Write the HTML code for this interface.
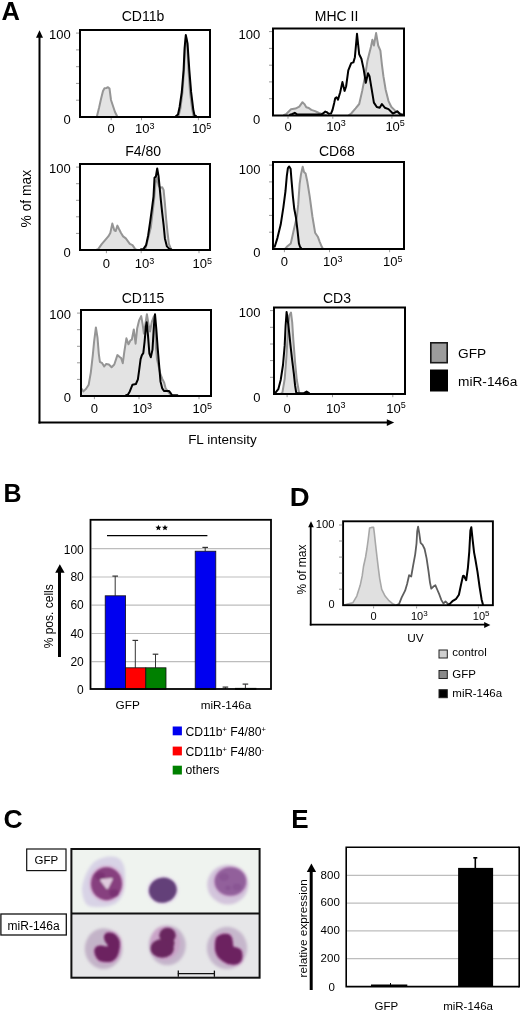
<!DOCTYPE html>
<html><head><meta charset="utf-8"><title>Figure</title>
<style>
html,body{margin:0;padding:0;background:#fff;}
body{width:520px;height:1018px;overflow:hidden;}
svg{display:block;font-family:"Liberation Sans", sans-serif;will-change:transform;}
</style></head>
<body>
<svg width="520" height="1018" viewBox="0 0 520 1018">
<rect x="0" y="0" width="520" height="1018" fill="#fff"/>
<text x="1.4" y="19.8" font-size="25.5" text-anchor="start" font-weight="bold" fill="#000" >A</text>
<line x1="39.5" y1="423.5" x2="39.5" y2="36" stroke="#000" stroke-width="2"/>
<polygon points="39.5,30.3 36,37.8 43,37.8" fill="#000"/>
<line x1="38.5" y1="422.5" x2="388" y2="422.5" stroke="#000" stroke-width="2"/>
<polygon points="394.2,422.6 386.8,419.2 386.8,426" fill="#000"/>
<text transform="translate(30.5,198.7) rotate(-90)" font-size="13.8" text-anchor="middle">% of max</text>
<text x="222.4" y="444.4" font-size="13.5" text-anchor="middle" fill="#000" >FL intensity</text>
<polygon points="97,117 97,116 99,108 101,99 103,91 104.5,88.3 106.5,88 108,87.2 109.5,88.5 111,100 113,106 115,112 117,116 117,117" fill="#e3e3e3" stroke="none"/>
<polyline points="97,116 99,108 101,99 103,91 104.5,88.3 106.5,88 108,87.2 109.5,88.5 111,100 113,106 115,112 117,116" fill="none" stroke="#959595" stroke-width="2" stroke-linejoin="round" stroke-linecap="round"/>
<polygon points="178.5,117 178.5,116 180.5,108 182.5,92 184,70 185,48 186,37 187.2,44 188.5,70 190,92 192,108 193.5,116 193.5,117" fill="#e3e3e3" stroke="none"/>
<polyline points="178.5,116 180.5,108 182.5,92 184,70 185,48 186,37 187.2,44 188.5,70 190,92 192,108 193.5,116" fill="none" stroke="#959595" stroke-width="2" stroke-linejoin="round" stroke-linecap="round"/>
<polyline points="176,116 178,114.5 179.6,107 181.8,92 183.6,70 184.6,48 185.8,35 187.5,43.3 189.3,69.8 191.1,91.9 193.3,109.6 194.5,115.5 196,116" fill="none" stroke="#000" stroke-width="2" stroke-linejoin="round" stroke-linecap="round"/>
<line x1="76" y1="100.2" x2="79" y2="100.2" stroke="#9a9a9a" stroke-width="1"/>
<line x1="76" y1="83.4" x2="79" y2="83.4" stroke="#9a9a9a" stroke-width="1"/>
<line x1="76" y1="66.7" x2="79" y2="66.7" stroke="#9a9a9a" stroke-width="1"/>
<line x1="76" y1="49.9" x2="79" y2="49.9" stroke="#9a9a9a" stroke-width="1"/>
<line x1="76" y1="33.1" x2="79" y2="33.1" stroke="#9a9a9a" stroke-width="1"/>
<line x1="111.2" y1="118" x2="111.2" y2="120.2" stroke="#9a9a9a" stroke-width="1"/>
<line x1="141.5" y1="118" x2="141.5" y2="120.2" stroke="#9a9a9a" stroke-width="1"/>
<line x1="198.4" y1="118" x2="198.4" y2="120.2" stroke="#9a9a9a" stroke-width="1"/>
<rect x="80" y="30" width="130" height="87" fill="none" stroke="#000" stroke-width="2"/>
<text x="143" y="20.9" font-size="14" text-anchor="middle" fill="#000" >CD11b</text>
<text x="70.8" y="38.5" font-size="13" text-anchor="end" fill="#000" >100</text>
<text x="70.8" y="124.2" font-size="13" text-anchor="end" fill="#000" >0</text>
<text x="111.2" y="133.2" font-size="13" text-anchor="middle" fill="#000" >0</text>
<text x="135" y="133.2" font-size="13" text-anchor="start">10<tspan dy="-4.6" font-size="9">3</tspan></text>
<text x="191.9" y="133.2" font-size="13" text-anchor="start">10<tspan dy="-4.6" font-size="9">5</tspan></text>
<polygon points="284,115.5 284,115 286,114.3 291,109.2 295.5,108.6 299.3,106.7 302.5,102.2 304.4,104.1 306.3,107.3 308.8,108 311.3,109.9 315.1,111.1 319,113 322.8,114.3 326,115 326,115.5" fill="#e3e3e3" stroke="none"/>
<polyline points="284,115 286,114.3 291,109.2 295.5,108.6 299.3,106.7 302.5,102.2 304.4,104.1 306.3,107.3 308.8,108 311.3,109.9 315.1,111.1 319,113 322.8,114.3 326,115" fill="none" stroke="#959595" stroke-width="2" stroke-linejoin="round" stroke-linecap="round"/>
<polygon points="349,115.5 349,115 351.2,113.5 355.6,108.4 359.2,104 362.2,90.9 365.1,76.2 367.3,61.6 368.7,55.8 370.9,47 372.4,39.7 373.9,45.5 376.1,33.1 378.2,45.5 380.4,50.7 381.9,64.5 383.4,76.2 385.6,89.4 388.5,101.1 391.4,107 395.1,110.6 398.7,112.8 401.6,114.3 403,115 403,115.5" fill="#e3e3e3" stroke="none"/>
<polyline points="349,115 351.2,113.5 355.6,108.4 359.2,104 362.2,90.9 365.1,76.2 367.3,61.6 368.7,55.8 370.9,47 372.4,39.7 373.9,45.5 376.1,33.1 378.2,45.5 380.4,50.7 381.9,64.5 383.4,76.2 385.6,89.4 388.5,101.1 391.4,107 395.1,110.6 398.7,112.8 401.6,114.3 403,115" fill="none" stroke="#959595" stroke-width="2" stroke-linejoin="round" stroke-linecap="round"/>
<polyline points="290,114.6 292.5,114 294.8,112.8 297,114.3 300,114.6 321,114.6 323,113.5 325.3,111.6 327.3,112.5 328.5,113.7 331,113.6 332.5,110 334.2,102.9 335.2,98.2 336.5,97.3 338,99.6 340.2,92.3 342.4,82.1 344.6,90.9 346.1,86.5 348.3,70.4 351.2,63.1 353.4,62.4 354.9,57.2 357,33.8 359.2,54.3 361.4,58.7 363.6,68.9 365.8,82.8 368,73.3 369.5,76.2 371.7,89.4 373.9,102.6 376.8,107 379.7,107.7 381.9,104 384.8,107.7 388.5,109.1 392.9,113.5 397.3,111.3 400.2,114.3 402,114.6" fill="none" stroke="#000" stroke-width="2" stroke-linejoin="round" stroke-linecap="round"/>
<line x1="269" y1="98.7" x2="272" y2="98.7" stroke="#9a9a9a" stroke-width="1"/>
<line x1="269" y1="81.9" x2="272" y2="81.9" stroke="#9a9a9a" stroke-width="1"/>
<line x1="269" y1="65.2" x2="272" y2="65.2" stroke="#9a9a9a" stroke-width="1"/>
<line x1="269" y1="48.4" x2="272" y2="48.4" stroke="#9a9a9a" stroke-width="1"/>
<line x1="269" y1="31.6" x2="272" y2="31.6" stroke="#9a9a9a" stroke-width="1"/>
<line x1="288" y1="116.5" x2="288" y2="118.7" stroke="#9a9a9a" stroke-width="1"/>
<line x1="332.8" y1="116.5" x2="332.8" y2="118.7" stroke="#9a9a9a" stroke-width="1"/>
<line x1="391.9" y1="116.5" x2="391.9" y2="118.7" stroke="#9a9a9a" stroke-width="1"/>
<rect x="273" y="28.5" width="131" height="87" fill="none" stroke="#000" stroke-width="2"/>
<text x="336.5" y="20.9" font-size="14" text-anchor="middle" fill="#000" >MHC II</text>
<text x="260.2" y="38.5" font-size="13" text-anchor="end" fill="#000" >100</text>
<text x="260.2" y="124.2" font-size="13" text-anchor="end" fill="#000" >0</text>
<text x="288" y="131.0" font-size="13" text-anchor="middle" fill="#000" >0</text>
<text x="326.3" y="131.0" font-size="13" text-anchor="start">10<tspan dy="-4.6" font-size="9">3</tspan></text>
<text x="385.4" y="131.0" font-size="13" text-anchor="start">10<tspan dy="-4.6" font-size="9">5</tspan></text>
<polygon points="96,250 96,250 98.2,249.1 101.5,244.4 104.9,240.4 108.3,236.4 110.3,233 112.3,223.6 114.3,230.3 115.7,231 117.4,225.6 119,229 121,233 123.1,236.4 125.8,238.4 127.8,241.1 129.8,243.8 132.5,245.1 135.2,249.1 137,250 137,250" fill="#e3e3e3" stroke="none"/>
<polyline points="96,250 98.2,249.1 101.5,244.4 104.9,240.4 108.3,236.4 110.3,233 112.3,223.6 114.3,230.3 115.7,231 117.4,225.6 119,229 121,233 123.1,236.4 125.8,238.4 127.8,241.1 129.8,243.8 132.5,245.1 135.2,249.1 137,250" fill="none" stroke="#959595" stroke-width="2" stroke-linejoin="round" stroke-linecap="round"/>
<polygon points="143,250 143,250 145.4,249.1 150.8,227.6 154.1,199.3 155.5,183.2 156.8,177.8 158.8,185.9 160.2,187.9 162.2,187.2 163.6,189.9 164.9,203.4 166.2,219.5 167.6,233 168.9,243.8 171,249.1 172,250 172,250" fill="#e3e3e3" stroke="none"/>
<polyline points="143,250 145.4,249.1 150.8,227.6 154.1,199.3 155.5,183.2 156.8,177.8 158.8,185.9 160.2,187.9 162.2,187.2 163.6,189.9 164.9,203.4 166.2,219.5 167.6,233 168.9,243.8 171,249.1 172,250" fill="none" stroke="#959595" stroke-width="2" stroke-linejoin="round" stroke-linecap="round"/>
<polyline points="141,249.3 143.4,249.1 146.1,245.1 148.1,235.7 150.1,222.2 152.1,207.4 153.5,196.6 154.5,177.8 155.9,176.5 157.2,168.4 158.6,176.5 159.5,185.9 160.9,200.7 162.2,212.8 163.6,224.9 164.9,238.4 166.9,246.4 169.6,249.1 171,249.3" fill="none" stroke="#000" stroke-width="2" stroke-linejoin="round" stroke-linecap="round"/>
<line x1="76" y1="233.4" x2="79" y2="233.4" stroke="#9a9a9a" stroke-width="1"/>
<line x1="76" y1="216.8" x2="79" y2="216.8" stroke="#9a9a9a" stroke-width="1"/>
<line x1="76" y1="200.3" x2="79" y2="200.3" stroke="#9a9a9a" stroke-width="1"/>
<line x1="76" y1="183.7" x2="79" y2="183.7" stroke="#9a9a9a" stroke-width="1"/>
<line x1="76" y1="167.1" x2="79" y2="167.1" stroke="#9a9a9a" stroke-width="1"/>
<line x1="106.4" y1="251" x2="106.4" y2="253.2" stroke="#9a9a9a" stroke-width="1"/>
<line x1="141.2" y1="251" x2="141.2" y2="253.2" stroke="#9a9a9a" stroke-width="1"/>
<line x1="199.0" y1="251" x2="199.0" y2="253.2" stroke="#9a9a9a" stroke-width="1"/>
<rect x="80" y="164" width="130" height="86" fill="none" stroke="#000" stroke-width="2"/>
<text x="143.1" y="156.3" font-size="14" text-anchor="middle" fill="#000" >F4/80</text>
<text x="70.8" y="173.4" font-size="13" text-anchor="end" fill="#000" >100</text>
<text x="70.8" y="256.9" font-size="13" text-anchor="end" fill="#000" >0</text>
<text x="106.4" y="268.3" font-size="13" text-anchor="middle" fill="#000" >0</text>
<text x="134.7" y="268.3" font-size="13" text-anchor="start">10<tspan dy="-4.6" font-size="9">3</tspan></text>
<text x="192.5" y="268.3" font-size="13" text-anchor="start">10<tspan dy="-4.6" font-size="9">5</tspan></text>
<polygon points="285,249 285,249 286.8,246.8 290.8,243.4 293.5,231.3 296.9,216.5 298.2,204.4 299.6,184.2 300.9,174.8 302.7,166.7 304,172.1 305.6,173.5 307.3,181.5 309.7,196.3 312.4,216.5 315.1,232.7 317.8,236.7 319.8,242.1 321.8,246.8 323,249 323,249" fill="#e3e3e3" stroke="none"/>
<polyline points="285,249 286.8,246.8 290.8,243.4 293.5,231.3 296.9,216.5 298.2,204.4 299.6,184.2 300.9,174.8 302.7,166.7 304,172.1 305.6,173.5 307.3,181.5 309.7,196.3 312.4,216.5 315.1,232.7 317.8,236.7 319.8,242.1 321.8,246.8 323,249" fill="none" stroke="#959595" stroke-width="2" stroke-linejoin="round" stroke-linecap="round"/>
<polyline points="274.7,246.8 277.4,238.1 280.7,224.6 283.4,207.1 285.5,191 286.8,176.2 287.9,168.1 289.2,166.5 290.6,168.7 291.5,180.2 292.9,196.3 294.2,208.5 296,217.9 297.6,231.3 298.9,243.4 300,246.8 301,248" fill="none" stroke="#000" stroke-width="2" stroke-linejoin="round" stroke-linecap="round"/>
<line x1="269" y1="232.2" x2="272" y2="232.2" stroke="#9a9a9a" stroke-width="1"/>
<line x1="269" y1="215.4" x2="272" y2="215.4" stroke="#9a9a9a" stroke-width="1"/>
<line x1="269" y1="198.7" x2="272" y2="198.7" stroke="#9a9a9a" stroke-width="1"/>
<line x1="269" y1="181.9" x2="272" y2="181.9" stroke="#9a9a9a" stroke-width="1"/>
<line x1="269" y1="165.1" x2="272" y2="165.1" stroke="#9a9a9a" stroke-width="1"/>
<line x1="284.4" y1="250" x2="284.4" y2="252.2" stroke="#9a9a9a" stroke-width="1"/>
<line x1="329.5" y1="250" x2="329.5" y2="252.2" stroke="#9a9a9a" stroke-width="1"/>
<line x1="389.6" y1="250" x2="389.6" y2="252.2" stroke="#9a9a9a" stroke-width="1"/>
<rect x="273" y="162" width="131" height="87" fill="none" stroke="#000" stroke-width="2"/>
<text x="336.9" y="155.9" font-size="14" text-anchor="middle" fill="#000" >CD68</text>
<text x="260.4" y="173.5" font-size="13" text-anchor="end" fill="#000" >100</text>
<text x="260.4" y="256.8" font-size="13" text-anchor="end" fill="#000" >0</text>
<text x="284.4" y="266.3" font-size="13" text-anchor="middle" fill="#000" >0</text>
<text x="323" y="266.3" font-size="13" text-anchor="start">10<tspan dy="-4.6" font-size="9">3</tspan></text>
<text x="383.1" y="266.3" font-size="13" text-anchor="start">10<tspan dy="-4.6" font-size="9">5</tspan></text>
<polygon points="81.6,396 81.6,388.8 83.4,391.4 86.1,388.8 88.7,384.7 90.8,372.6 92.8,355.1 94.1,341.6 95.9,327.5 97.5,337.6 98.8,353.8 99.9,361.8 102.2,363.2 104.2,366.5 106.2,363.9 108.9,364.5 111.6,367.2 114.3,364.5 117.4,355.1 119.7,357.1 121,357.8 122.8,363.2 124.4,351.1 126.4,338.3 128.5,344.3 130.5,340.3 131.8,339.6 133.8,329.5 135.6,343.7 137.2,328.2 139.2,320.1 141.2,316.1 142.6,324.2 143.9,333.6 145.3,324.6 146.9,314.2 148.6,324.6 150,331.5 151.8,321.9 153.9,316.3 155.2,328.8 155.9,346.8 157,359.2 158,363.4 160.1,373.1 162.2,378.6 164.2,382.8 165.6,388.3 167.7,391.1 169.8,393.9 171.2,395.5 171.2,396" fill="#e3e3e3" stroke="none"/>
<polyline points="81.6,388.8 83.4,391.4 86.1,388.8 88.7,384.7 90.8,372.6 92.8,355.1 94.1,341.6 95.9,327.5 97.5,337.6 98.8,353.8 99.9,361.8 102.2,363.2 104.2,366.5 106.2,363.9 108.9,364.5 111.6,367.2 114.3,364.5 117.4,355.1 119.7,357.1 121,357.8 122.8,363.2 124.4,351.1 126.4,338.3 128.5,344.3 130.5,340.3 131.8,339.6 133.8,329.5 135.6,343.7 137.2,328.2 139.2,320.1 141.2,316.1 142.6,324.2 143.9,333.6 145.3,324.6 146.9,314.2 148.6,324.6 150,331.5 151.8,321.9 153.9,316.3 155.2,328.8 155.9,346.8 157,359.2 158,363.4 160.1,373.1 162.2,378.6 164.2,382.8 165.6,388.3 167.7,391.1 169.8,393.9 171.2,395.5" fill="none" stroke="#959595" stroke-width="2" stroke-linejoin="round" stroke-linecap="round"/>
<polyline points="126,395.3 127.8,394.8 129.8,391.4 132.5,384.7 135.9,384 137.9,379.3 139.2,369.9 140.6,359.1 141.9,355.1 143.3,353.1 144.6,341.6 145.9,326.8 146.7,322.3 148,335.7 149.4,353.7 150.8,357.2 152.5,349.6 153.9,326 155,314.2 156.3,328.8 157.7,348.2 159.1,364.8 160.5,381.4 162.2,388.3 164.2,391.1 167,391.1 169.1,391.1 170.7,393.2 172.1,395.3 177.4,395.3" fill="none" stroke="#000" stroke-width="2" stroke-linejoin="round" stroke-linecap="round"/>
<line x1="77" y1="379.4" x2="80" y2="379.4" stroke="#9a9a9a" stroke-width="1"/>
<line x1="77" y1="362.8" x2="80" y2="362.8" stroke="#9a9a9a" stroke-width="1"/>
<line x1="77" y1="346.3" x2="80" y2="346.3" stroke="#9a9a9a" stroke-width="1"/>
<line x1="77" y1="329.7" x2="80" y2="329.7" stroke="#9a9a9a" stroke-width="1"/>
<line x1="77" y1="313.1" x2="80" y2="313.1" stroke="#9a9a9a" stroke-width="1"/>
<line x1="94.4" y1="397" x2="94.4" y2="399.2" stroke="#9a9a9a" stroke-width="1"/>
<line x1="139.0" y1="397" x2="139.0" y2="399.2" stroke="#9a9a9a" stroke-width="1"/>
<line x1="199.0" y1="397" x2="199.0" y2="399.2" stroke="#9a9a9a" stroke-width="1"/>
<rect x="81" y="310" width="130" height="86" fill="none" stroke="#000" stroke-width="2"/>
<text x="143" y="302.6" font-size="14" text-anchor="middle" fill="#000" >CD115</text>
<text x="70.9" y="319.3" font-size="13" text-anchor="end" fill="#000" >100</text>
<text x="70.9" y="401.8" font-size="13" text-anchor="end" fill="#000" >0</text>
<text x="94.4" y="413.3" font-size="13" text-anchor="middle" fill="#000" >0</text>
<text x="132.5" y="413.3" font-size="13" text-anchor="start">10<tspan dy="-4.6" font-size="9">3</tspan></text>
<text x="192.5" y="413.3" font-size="13" text-anchor="start">10<tspan dy="-4.6" font-size="9">5</tspan></text>
<polygon points="281,394.0 281,393.5 282.4,392.7 284.7,378.8 286.4,356.9 288.1,328.1 289.3,315.4 291,312.5 292.2,322.3 293.3,339.6 295.1,362.7 296.8,380 299.1,392.7 300,393.5 300,394.0" fill="#e3e3e3" stroke="none"/>
<polyline points="281,393.5 282.4,392.7 284.7,378.8 286.4,356.9 288.1,328.1 289.3,315.4 291,312.5 292.2,322.3 293.3,339.6 295.1,362.7 296.8,380 299.1,392.7 300,393.5" fill="none" stroke="#959595" stroke-width="2" stroke-linejoin="round" stroke-linecap="round"/>
<polyline points="274.5,393 275.5,392.7 278.3,389.2 280.7,380 283,365 284.7,345.4 285.6,325.8 286.6,311.9 287.6,318.8 288.7,328.1 290.5,345.4 292.2,360.4 293.9,374.2 295.1,385.7 296.2,392.7 297.5,393.2 304,393.2 306.6,391.6 309,393.2" fill="none" stroke="#000" stroke-width="2" stroke-linejoin="round" stroke-linecap="round"/>
<line x1="270" y1="377.3" x2="273" y2="377.3" stroke="#9a9a9a" stroke-width="1"/>
<line x1="270" y1="360.6" x2="273" y2="360.6" stroke="#9a9a9a" stroke-width="1"/>
<line x1="270" y1="344.0" x2="273" y2="344.0" stroke="#9a9a9a" stroke-width="1"/>
<line x1="270" y1="327.3" x2="273" y2="327.3" stroke="#9a9a9a" stroke-width="1"/>
<line x1="270" y1="310.6" x2="273" y2="310.6" stroke="#9a9a9a" stroke-width="1"/>
<line x1="287.1" y1="395.0" x2="287.1" y2="397.2" stroke="#9a9a9a" stroke-width="1"/>
<line x1="332.5" y1="395.0" x2="332.5" y2="397.2" stroke="#9a9a9a" stroke-width="1"/>
<line x1="392.8" y1="395.0" x2="392.8" y2="397.2" stroke="#9a9a9a" stroke-width="1"/>
<rect x="274" y="307.5" width="131" height="86.5" fill="none" stroke="#000" stroke-width="2"/>
<text x="337" y="302.5" font-size="14" text-anchor="middle" fill="#000" >CD3</text>
<text x="260.5" y="316.8" font-size="13" text-anchor="end" fill="#000" >100</text>
<text x="260.5" y="401.5" font-size="13" text-anchor="end" fill="#000" >0</text>
<text x="287.1" y="413.0" font-size="13" text-anchor="middle" fill="#000" >0</text>
<text x="326" y="413.0" font-size="13" text-anchor="start">10<tspan dy="-4.6" font-size="9">3</tspan></text>
<text x="386.3" y="413.0" font-size="13" text-anchor="start">10<tspan dy="-4.6" font-size="9">5</tspan></text>
<rect x="430.8" y="342.8" width="16.4" height="19.9" fill="#9c9c9c" stroke="#1a1a1a" stroke-width="1.6"/>
<rect x="430" y="369.5" width="18" height="22" fill="#000" stroke="none" stroke-width="0"/>
<text x="458" y="357.9" font-size="13.7" text-anchor="start" fill="#000" >GFP</text>
<text x="458" y="386.3" font-size="13.7" text-anchor="start" fill="#000" >miR-146a</text>
<text x="3.6" y="502.3" font-size="25" text-anchor="start" font-weight="bold" fill="#000" >B</text>
<line x1="91.5" y1="661.7" x2="270" y2="661.7" stroke="#bdbdbd" stroke-width="1.2"/>
<line x1="91.5" y1="633.5" x2="270" y2="633.5" stroke="#bdbdbd" stroke-width="1.2"/>
<line x1="91.5" y1="605.2" x2="270" y2="605.2" stroke="#bdbdbd" stroke-width="1.2"/>
<line x1="91.5" y1="577.0" x2="270" y2="577.0" stroke="#bdbdbd" stroke-width="1.2"/>
<line x1="91.5" y1="548.7" x2="270" y2="548.7" stroke="#bdbdbd" stroke-width="1.2"/>
<line x1="115.2" y1="595.8" x2="115.2" y2="576.1" stroke="#333" stroke-width="1"/>
<line x1="112.4" y1="576.1" x2="118.0" y2="576.1" stroke="#333" stroke-width="1.2"/>
<line x1="135.3" y1="667.8" x2="135.3" y2="640.4" stroke="#333" stroke-width="1"/>
<line x1="132.5" y1="640.4" x2="138.10000000000002" y2="640.4" stroke="#333" stroke-width="1.2"/>
<line x1="155.5" y1="667.8" x2="155.5" y2="654.2" stroke="#333" stroke-width="1"/>
<line x1="152.7" y1="654.2" x2="158.3" y2="654.2" stroke="#333" stroke-width="1.2"/>
<line x1="205.2" y1="551.2" x2="205.2" y2="547.4" stroke="#333" stroke-width="1"/>
<line x1="202.39999999999998" y1="547.4" x2="208.0" y2="547.4" stroke="#333" stroke-width="1.2"/>
<line x1="225.4" y1="689" x2="225.4" y2="687.1" stroke="#333" stroke-width="1"/>
<line x1="222.6" y1="687.1" x2="228.20000000000002" y2="687.1" stroke="#333" stroke-width="1.2"/>
<line x1="245.4" y1="689" x2="245.4" y2="684.1" stroke="#333" stroke-width="1"/>
<line x1="242.6" y1="684.1" x2="248.20000000000002" y2="684.1" stroke="#333" stroke-width="1.2"/>
<rect x="105.2" y="595.8" width="20.39999999999999" height="93.5" fill="#0000f0" stroke="#111" stroke-width="0.8"/>
<rect x="125.6" y="667.8" width="20.200000000000017" height="21.5" fill="#ff0000" stroke="#111" stroke-width="0.8"/>
<rect x="145.8" y="667.8" width="20.19999999999999" height="21.5" fill="#008000" stroke="#111" stroke-width="0.8"/>
<rect x="195.2" y="551.2" width="20.600000000000023" height="138.0999999999999" fill="#0000f0" stroke="#111" stroke-width="0.8"/>
<rect x="235.4" y="688.3" width="20.599999999999994" height="1.0" fill="#008000" stroke="#111" stroke-width="0.8"/>
<rect x="90.5" y="519.8" width="180.5" height="169.2" fill="none" stroke="#000" stroke-width="1.8"/>
<line x1="107" y1="535.6" x2="207.4" y2="535.6" stroke="#000" stroke-width="1.2"/>
<polygon points="158.4,524.65 159.23,526.65 161.4,526.83 159.75,528.24 160.25,530.35 158.4,529.22 156.55,530.35 157.05,528.24 155.4,526.83 157.57,526.65" fill="#000"/>
<polygon points="165.0,524.65 165.83,526.65 168.0,526.83 166.35,528.24 166.85,530.35 165.0,529.22 163.15,530.35 163.65,528.24 162.0,526.83 164.17,526.65" fill="#000"/>
<text x="83.8" y="553.6" font-size="12" text-anchor="end" fill="#000" >100</text>
<text x="83.8" y="581.4" font-size="12" text-anchor="end" fill="#000" >80</text>
<text x="83.8" y="609.3" font-size="12" text-anchor="end" fill="#000" >60</text>
<text x="83.8" y="637.7" font-size="12" text-anchor="end" fill="#000" >40</text>
<text x="83.8" y="666" font-size="12" text-anchor="end" fill="#000" >20</text>
<text x="83.8" y="694.2" font-size="12" text-anchor="end" fill="#000" >0</text>
<line x1="59.5" y1="657" x2="59.5" y2="571" stroke="#000" stroke-width="3"/>
<polygon points="59.8,564.2 55.2,572.8 64.6,572.8" fill="#000"/>
<text transform="translate(53.3,616.3) rotate(-90)" font-size="12" text-anchor="middle">% pos. cells</text>
<text x="127.7" y="709.4" font-size="11.8" text-anchor="middle" fill="#000" >GFP</text>
<text x="226" y="709.2" font-size="11.7" text-anchor="middle" fill="#000" >miR-146a</text>
<rect x="172.7" y="726.5" width="9.2" height="8.8" fill="#0000f0"/>
<text x="185.5" y="735.5" font-size="12.2" text-anchor="start" fill="#000" >CD11b<tspan font-size="7.5" dy="-4">+</tspan><tspan dy="4" dx="0"> F4/80</tspan><tspan font-size="7.5" dy="-4">+</tspan></text>
<rect x="172.7" y="746.6" width="9.2" height="8.8" fill="#ff0000"/>
<text x="185.5" y="755.6" font-size="12.2" text-anchor="start" fill="#000" >CD11b<tspan font-size="7.5" dy="-4">+</tspan><tspan dy="4" dx="0"> F4/80</tspan><tspan font-size="7.5" dy="-4">-</tspan></text>
<rect x="172.7" y="765.7" width="9.2" height="8.8" fill="#008000"/>
<text x="185.5" y="773.7" font-size="12.2" text-anchor="start" fill="#000" >others</text>
<text x="0" y="0" font-size="25" font-weight="bold" transform="translate(289.7 505.8) scale(1.1 1)">D</text>
<line x1="310.7" y1="625.5" x2="310.7" y2="526" stroke="#000" stroke-width="1.8"/>
<polygon points="311,521.2 308.2,527.2 313.8,527.2" fill="#000"/>
<line x1="309.8" y1="624.7" x2="485" y2="624.7" stroke="#000" stroke-width="1.8"/>
<polygon points="490.4,624.9 484.2,622 484.2,628" fill="#000"/>
<polygon points="345,605 345,604.8 347.4,604.1 352.8,602.8 356.8,596.1 360.2,585.3 362.2,575.9 363.5,566.5 365.6,557 366.9,549 368.2,539.5 369.6,528.1 371.6,527.4 373.6,527.4 374.3,532.8 375.6,544.9 377,557 378.3,567.8 379.7,578.6 381.7,589.3 385.1,596.1 388.4,600.1 393.1,604.1 395,604.8 395,605" fill="#e0e0e0" stroke="none"/>
<polyline points="345,604.8 347.4,604.1 352.8,602.8 356.8,596.1 360.2,585.3 362.2,575.9 363.5,566.5 365.6,557 366.9,549 368.2,539.5 369.6,528.1 371.6,527.4 373.6,527.4 374.3,532.8 375.6,544.9 377,557 378.3,567.8 379.7,578.6 381.7,589.3 385.1,596.1 388.4,600.1 393.1,604.1 395,604.8" fill="none" stroke="#a8a8a8" stroke-width="1.6" stroke-linejoin="round" stroke-linecap="round"/>
<polyline points="397,604.8 399,604.1 401.7,597.4 405.1,590.7 407.1,584 409.1,575.2 411.2,576.5 413.2,565.1 415.2,554.3 416.5,543.6 417.2,531.5 418.1,526.7 419.2,532.8 420.6,542.9 422.6,544.9 424.6,549 426.6,558.4 428.6,571.8 430,582.6 431.3,588.7 433.4,586.6 435.4,585.3 437.4,590 439.4,594.7 441.4,600.1 443.5,603.5 445.5,601.4 448.2,604.1 450,604.8" fill="none" stroke="#5e5e5e" stroke-width="1.8" stroke-linejoin="round" stroke-linecap="round"/>
<polyline points="448,604.8 449.5,604.1 452.9,600.8 456.2,598.8 458.9,594.7 460.9,585.3 463,575.9 463.8,575.7 466.2,580.2 467.9,567.8 469.3,551.3 470.4,530.6 471.3,527.2 472.7,540.3 474.1,552.6 475.4,559.5 477.5,571.9 479.6,587 481.6,599.4 483,604.8" fill="none" stroke="#000" stroke-width="2" stroke-linejoin="round" stroke-linecap="round"/>
<rect x="343.1" y="521.3" width="149.8" height="83.9" fill="none" stroke="#000" stroke-width="1.9"/>
<line x1="339" y1="589.2" x2="342.2" y2="589.2" stroke="#9a9a9a" stroke-width="1"/>
<line x1="339" y1="573.1" x2="342.2" y2="573.1" stroke="#9a9a9a" stroke-width="1"/>
<line x1="339" y1="557.1" x2="342.2" y2="557.1" stroke="#9a9a9a" stroke-width="1"/>
<line x1="339" y1="541.0" x2="342.2" y2="541.0" stroke="#9a9a9a" stroke-width="1"/>
<line x1="339" y1="525.0" x2="342.2" y2="525.0" stroke="#9a9a9a" stroke-width="1"/>
<line x1="373.6" y1="606.2" x2="373.6" y2="608.4" stroke="#9a9a9a" stroke-width="1"/>
<line x1="416.6" y1="606.2" x2="416.6" y2="608.4" stroke="#9a9a9a" stroke-width="1"/>
<line x1="478.4" y1="606.2" x2="478.4" y2="608.4" stroke="#9a9a9a" stroke-width="1"/>
<text x="334.5" y="527.9" font-size="11.2" text-anchor="end" fill="#000" >100</text>
<text x="334.5" y="607.9" font-size="11" text-anchor="end" fill="#000" >0</text>
<text x="373.6" y="620" font-size="11" text-anchor="middle" fill="#000" >0</text>
<text x="411.0" y="620" font-size="11" text-anchor="start">10<tspan dy="-4.2" font-size="8">3</tspan></text>
<text x="472.8" y="620" font-size="11" text-anchor="start">10<tspan dy="-4.2" font-size="8">5</tspan></text>
<text transform="translate(306.2,569.5) rotate(-90)" font-size="12" text-anchor="middle">% of max</text>
<text x="415.4" y="641.5" font-size="11.8" text-anchor="middle" fill="#000" >UV</text>
<rect x="439" y="650.0" width="8.3" height="8" fill="#cfcfcf" stroke="#222" stroke-width="1"/>
<text x="452.3" y="656.4" font-size="11.5" text-anchor="start" fill="#000" >control</text>
<rect x="439" y="670.5" width="8.3" height="8" fill="#8a8a8a" stroke="#222" stroke-width="1"/>
<text x="452.3" y="677.5" font-size="11.5" text-anchor="start" fill="#000" >GFP</text>
<rect x="439" y="689.7" width="8.3" height="8" fill="#000" stroke="#222" stroke-width="1"/>
<text x="452.3" y="696.7" font-size="11.5" text-anchor="start" fill="#000" >miR-146a</text>
<text x="3.4" y="827.9" font-size="26.5" text-anchor="start" font-weight="bold" fill="#000" >C</text>
<rect x="26.7" y="849" width="39.3" height="21.6" fill="#fff" stroke="#111" stroke-width="1.2"/>
<text x="46.4" y="863.8" font-size="11.5" text-anchor="middle" fill="#000" >GFP</text>
<rect x="0.9" y="914" width="65.4" height="21" fill="#fff" stroke="#111" stroke-width="1.3"/>
<text x="33.6" y="929.6" font-size="12" text-anchor="middle" fill="#000" >miR-146a</text>
<rect x="71.2" y="849" width="188.4" height="64.5" fill="#eff3ef"/>
<rect x="71.2" y="913.5" width="188.4" height="64" fill="#e6e6e8"/>
<defs><filter id="bl" x="-20%" y="-20%" width="140%" height="140%"><feGaussianBlur stdDeviation="0.9"/></filter><filter id="bl2" x="-20%" y="-20%" width="140%" height="140%"><feGaussianBlur stdDeviation="1.6"/></filter></defs>
<g filter="url(#bl2)">
<path d="M84,900 C82.8,897.0 81.7,892.3 82,888 C82.3,883.7 84.0,878.3 86,874 C88.0,869.7 90.7,864.8 94,862 C97.3,859.2 102.0,857.7 106,857 C110.0,856.3 115.0,856.5 118,858 C121.0,859.5 122.8,862.3 124,866 C125.2,869.7 125.2,875.3 125,880 C124.8,884.7 124.7,890.0 123,894 C121.3,898.0 118.7,901.8 115,904 C111.3,906.2 105.3,906.7 101,907 C96.7,907.3 91.8,907.2 89,906 C86.2,904.8 85.2,903.0 84,900 Z" fill="#d8d3e6"/>
<ellipse cx="227.8" cy="884.6" rx="20.6" ry="19.8" fill="#d3c5dc"/>
<ellipse cx="162.8" cy="890.2" rx="15.8" ry="14.2" fill="#e6dcec"/>
<ellipse cx="103.6" cy="948.7" rx="18.8" ry="20.4" fill="#c3b3c8"/>
<ellipse cx="167.3" cy="945.3" rx="18.5" ry="20" fill="#c5b5cb"/>
<ellipse cx="227" cy="948" rx="20.2" ry="21.2" fill="#c6b7cc"/>
<ellipse cx="106.5" cy="883.7" rx="17.5" ry="18.5" fill="#d6b6d6"/>
<ellipse cx="230.4" cy="881.5" rx="17" ry="15.5" fill="#c8a6cc"/>
<path d="M108.8,932.6 C110.2,932.7 112.9,932.9 114.6,934 C116.3,935.1 118.0,937.4 118.9,939.3 C119.8,941.1 119.9,943.0 119.9,945.1 C119.9,947.2 119.5,949.7 118.9,951.8 C118.3,953.9 117.7,956.0 116.5,957.6 C115.3,959.2 113.6,960.7 111.7,961.4 C109.8,962.1 107.1,962.0 105,961.9 C102.9,961.8 100.8,961.5 99.2,960.5 C97.6,959.5 96.2,957.5 95.4,955.7 C94.6,953.9 94.2,951.4 94.4,949.9 C94.6,948.4 95.7,947.2 96.8,946.5 C97.9,945.8 99.7,945.6 101.2,945.6 C102.7,945.6 104.9,946.5 106,946.5 C107.1,946.5 108.1,946.5 107.9,945.6 C107.7,944.7 105.7,942.7 105,941.2 C104.3,939.7 103.8,937.7 104,936.4 C104.2,935.1 105.2,933.9 106,933.3 C106.8,932.7 107.4,932.5 108.8,932.6 Z" fill="#c9a0c6" transform="translate(103.6 948.7) scale(1.12) translate(-103.6 -948.7)"/>
<path d="M217.4,936.4 C218.7,935.4 221.3,934.3 223.2,934 C225.1,933.7 227.6,933.9 229,934.5 C230.4,935.1 231.2,936.1 231.8,937.4 C232.4,938.7 232.5,940.7 232.8,942.2 C233.1,943.7 232.8,945.6 233.5,946.5 C234.2,947.4 235.4,947.0 236.7,947.6 C237.9,948.2 240.1,948.7 241,949.9 C241.9,951.1 242.3,952.9 242.4,954.7 C242.5,956.5 242.4,958.9 241.5,960.5 C240.6,962.1 238.6,963.7 236.7,964.3 C234.8,964.9 232.2,964.8 229.9,964.3 C227.7,963.8 225.1,962.5 223.2,961.4 C221.3,960.3 219.7,959.2 218.4,957.6 C217.1,956.0 216.1,953.9 215.5,951.8 C214.9,949.7 215.0,947.1 215,945.1 C215.0,943.1 215.2,941.2 215.6,939.8 C216.0,938.3 216.1,937.4 217.4,936.4 Z" fill="#c9a0c6" transform="translate(229 949) scale(1.1) translate(-229 -949)"/>
<ellipse cx="165" cy="943" rx="15" ry="17" fill="#c9a3c7"/>
</g>
<g filter="url(#bl)">
<ellipse cx="106.5" cy="883.7" rx="15.5" ry="16.5" fill="#87407f"/>
<ellipse cx="100" cy="876" rx="5" ry="4" fill="#7a3373"/>
<ellipse cx="114" cy="893" rx="5" ry="4" fill="#7a3373"/>
<path d="M101.5,880.3 L111.5,879.2 L107.2,887.8 Z" fill="#dfcadd" stroke="#dfcadd" stroke-width="2.5" stroke-linejoin="round"/>
<ellipse cx="162.8" cy="890.2" rx="14" ry="12.5" transform="rotate(-12 162.8 890.2)" fill="#644079"/>
<ellipse cx="230.4" cy="881.5" rx="15.6" ry="14" fill="#92609b"/>
<ellipse cx="224" cy="877" rx="5" ry="4" fill="#8a5694"/>
<ellipse cx="237" cy="887" rx="4.5" ry="3.5" fill="#8a5694"/>
<ellipse cx="228" cy="888" rx="3" ry="2.5" fill="#8a5694"/>
<path d="M108.8,932.6 C110.2,932.7 112.9,932.9 114.6,934 C116.3,935.1 118.0,937.4 118.9,939.3 C119.8,941.1 119.9,943.0 119.9,945.1 C119.9,947.2 119.5,949.7 118.9,951.8 C118.3,953.9 117.7,956.0 116.5,957.6 C115.3,959.2 113.6,960.7 111.7,961.4 C109.8,962.1 107.1,962.0 105,961.9 C102.9,961.8 100.8,961.5 99.2,960.5 C97.6,959.5 96.2,957.5 95.4,955.7 C94.6,953.9 94.2,951.4 94.4,949.9 C94.6,948.4 95.7,947.2 96.8,946.5 C97.9,945.8 99.7,945.6 101.2,945.6 C102.7,945.6 104.9,946.5 106,946.5 C107.1,946.5 108.1,946.5 107.9,945.6 C107.7,944.7 105.7,942.7 105,941.2 C104.3,939.7 103.8,937.7 104,936.4 C104.2,935.1 105.2,933.9 106,933.3 C106.8,932.7 107.4,932.5 108.8,932.6 Z" fill="#6c2461"/>
<ellipse cx="167.5" cy="935.2" rx="8.3" ry="7.4" fill="#69265e"/>
<ellipse cx="162.2" cy="948.4" rx="11.6" ry="9.4" fill="#69265e"/>
<ellipse cx="170" cy="943" rx="4.5" ry="5" fill="#69265e"/>
<path d="M217.4,936.4 C218.7,935.4 221.3,934.3 223.2,934 C225.1,933.7 227.6,933.9 229,934.5 C230.4,935.1 231.2,936.1 231.8,937.4 C232.4,938.7 232.5,940.7 232.8,942.2 C233.1,943.7 232.8,945.6 233.5,946.5 C234.2,947.4 235.4,947.0 236.7,947.6 C237.9,948.2 240.1,948.7 241,949.9 C241.9,951.1 242.3,952.9 242.4,954.7 C242.5,956.5 242.4,958.9 241.5,960.5 C240.6,962.1 238.6,963.7 236.7,964.3 C234.8,964.9 232.2,964.8 229.9,964.3 C227.7,963.8 225.1,962.5 223.2,961.4 C221.3,960.3 219.7,959.2 218.4,957.6 C217.1,956.0 216.1,953.9 215.5,951.8 C214.9,949.7 215.0,947.1 215,945.1 C215.0,943.1 215.2,941.2 215.6,939.8 C216.0,938.3 216.1,937.4 217.4,936.4 Z" fill="#6c2360"/>
</g>
<rect x="71.4" y="849" width="188.2" height="128.7" fill="none" stroke="#111" stroke-width="2"/>
<line x1="71.4" y1="913.6" x2="259.6" y2="913.6" stroke="#111" stroke-width="2"/>
<line x1="177.8" y1="973.6" x2="214.8" y2="973.6" stroke="#111" stroke-width="1.4"/>
<line x1="178.3" y1="970.6" x2="178.3" y2="976.8" stroke="#111" stroke-width="1.3"/>
<line x1="214.4" y1="970.6" x2="214.4" y2="976.8" stroke="#111" stroke-width="1.3"/>
<text x="291.3" y="827.9" font-size="26" text-anchor="start" font-weight="bold" fill="#000" >E</text>
<line x1="347" y1="958.7" x2="519" y2="958.7" stroke="#bdbdbd" stroke-width="1.2"/>
<line x1="347" y1="930.9" x2="519" y2="930.9" stroke="#bdbdbd" stroke-width="1.2"/>
<line x1="347" y1="903.2" x2="519" y2="903.2" stroke="#bdbdbd" stroke-width="1.2"/>
<line x1="347" y1="875.4" x2="519" y2="875.4" stroke="#bdbdbd" stroke-width="1.2"/>
<rect x="371" y="984.5" width="36.3" height="2" fill="#000" stroke="none" stroke-width="0"/>
<line x1="390.5" y1="983" x2="390.5" y2="985" stroke="#000" stroke-width="1"/>
<rect x="458.1" y="867.9" width="35" height="118.5" fill="#000" stroke="none" stroke-width="0"/>
<line x1="475.3" y1="868" x2="475.3" y2="857.8" stroke="#000" stroke-width="1.6"/>
<line x1="473.3" y1="857.8" x2="477.3" y2="857.8" stroke="#000" stroke-width="1.6"/>
<path d="M519,847.2 L346.2,847.2 L346.2,986.6 L519,986.6" fill="none" stroke="#000" stroke-width="1.6"/>
<line x1="519.2" y1="846.4" x2="519.2" y2="987.4" stroke="#000" stroke-width="1.6"/>
<text x="339.8" y="878.8" font-size="11.5" text-anchor="end" fill="#000" >800</text>
<text x="339.8" y="906.1" font-size="11.5" text-anchor="end" fill="#000" >600</text>
<text x="339.8" y="933.8" font-size="11.5" text-anchor="end" fill="#000" >400</text>
<text x="339.8" y="962" font-size="11.5" text-anchor="end" fill="#000" >200</text>
<text x="334.9" y="991.4" font-size="11.5" text-anchor="end" fill="#000" >0</text>
<line x1="311.2" y1="990" x2="311.2" y2="870" stroke="#000" stroke-width="3"/>
<polygon points="311.4,863.4 306.8,872 316.1,872" fill="#000"/>
<text transform="translate(306.6,928.3) rotate(-90)" font-size="11.8" text-anchor="middle">relative expression</text>
<text x="386.3" y="1009.8" font-size="11.5" text-anchor="middle" fill="#000" >GFP</text>
<text x="468.1" y="1010.3" font-size="11.5" text-anchor="middle" fill="#000" >miR-146a</text>
</svg>
</body></html>
